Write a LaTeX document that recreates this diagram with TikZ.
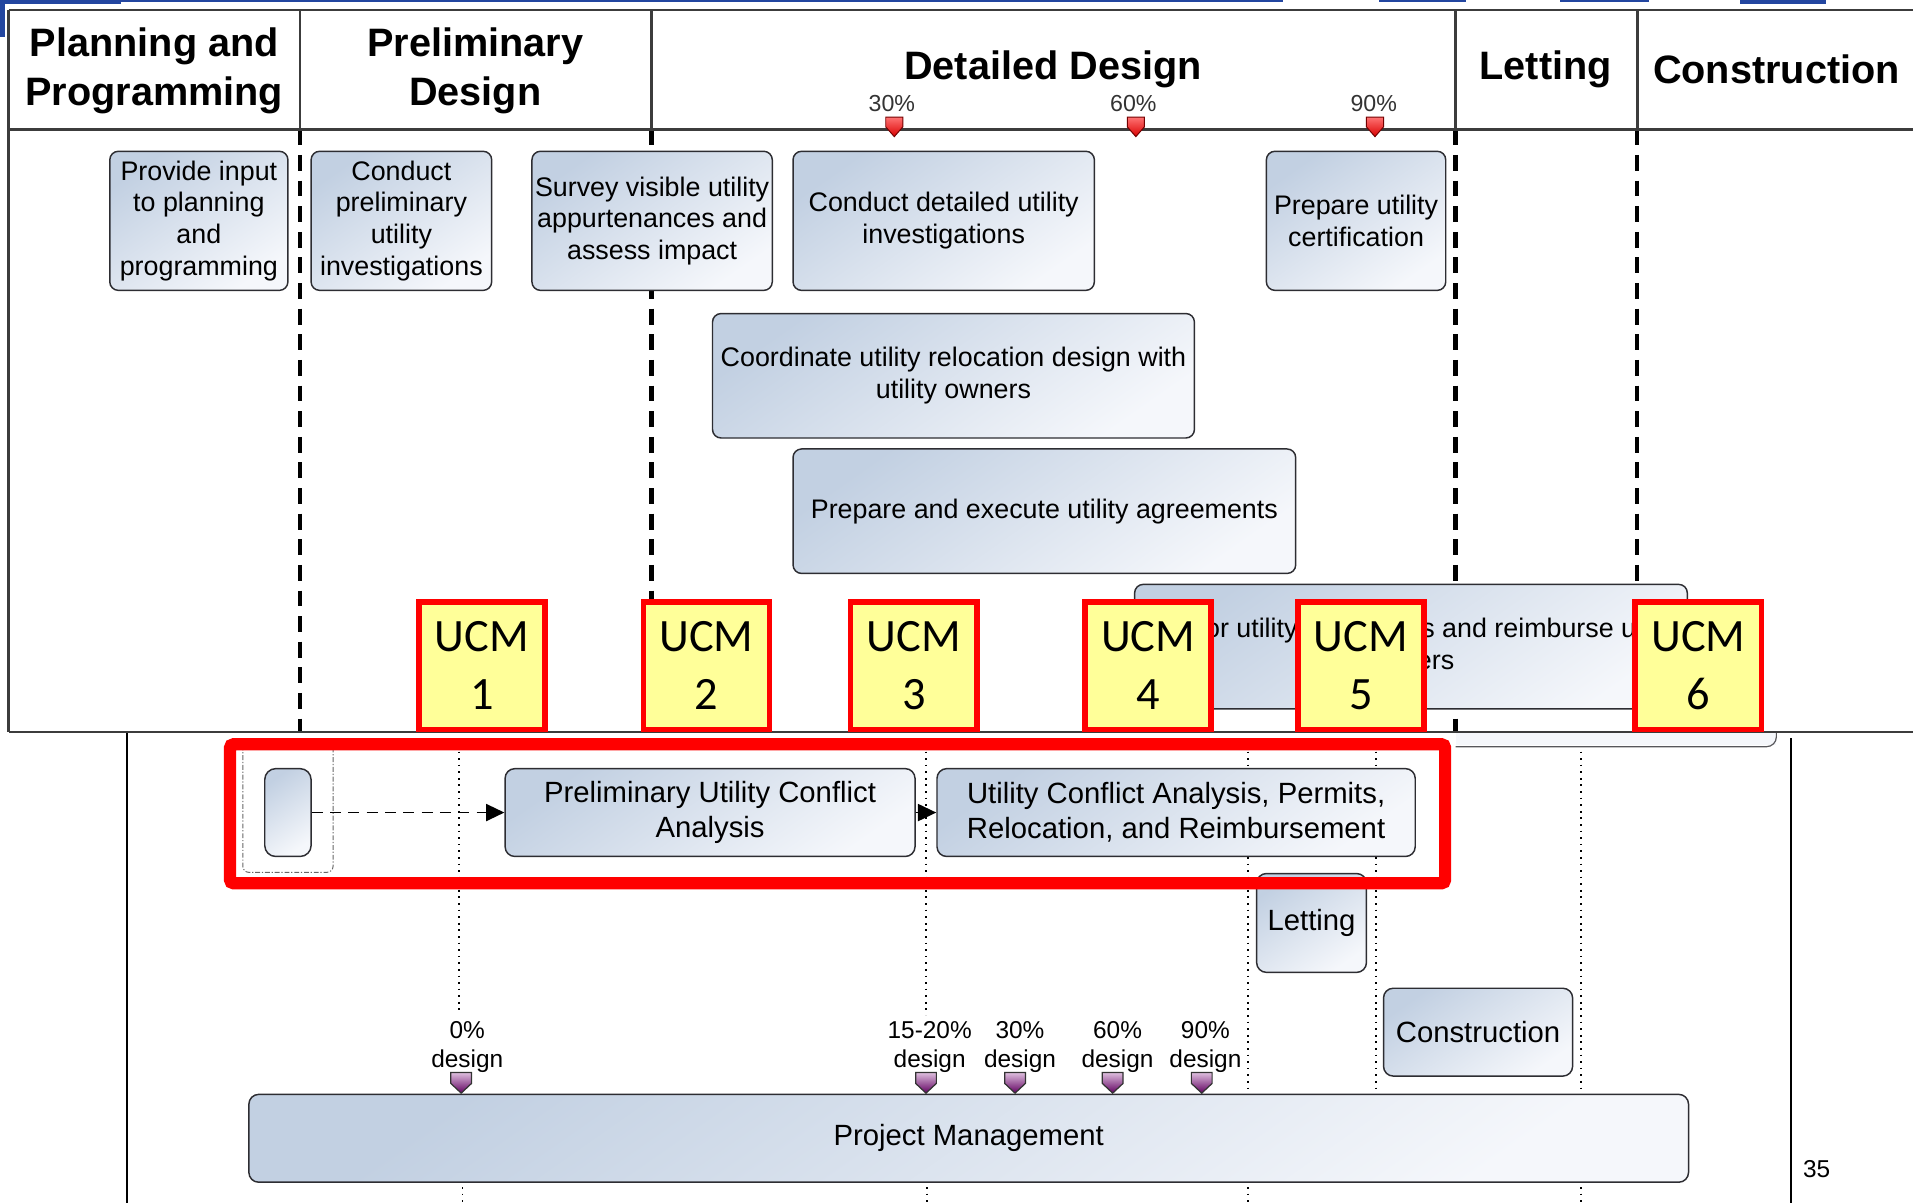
\documentclass[tikz,border=0pt]{standalone}
\usepackage{fontspec}
\setmainfont{Liberation Sans}
\newfontfamily\ucmfont{Carlito}
\usetikzlibrary{arrows.meta}
\definecolor{bdark}{RGB}{194,208,226}
\definecolor{blight}{RGB}{245,247,251}
\definecolor{bline}{RGB}{45,45,50}
\definecolor{ucmfill}{RGB}{255,255,153}
\definecolor{ucmred}{RGB}{255,0,0}
\definecolor{slideblue}{RGB}{35,70,160}
\definecolor{framegray}{RGB}{60,60,60}
\tikzset{
  gbox/.style={draw=bline, line width=1.2pt, rounded corners=7pt,
    top color=bdark, bottom color=blight, shading angle=35,
    inner sep=2pt, align=center, font=\fontsize{22}{26}\selectfont},
  lbox/.style={gbox, rounded corners=8pt, font=\fontsize{24}{29}\selectfont},
  ucm/.style={draw=ucmred, fill=ucmfill, line width=4.5pt, minimum width=103.5,
    minimum height=104.5, inner sep=0pt, align=center,
    font=\ucmfont\fontsize{38}{48}\selectfont},
  hdr/.style={font=\bfseries\fontsize{32.5}{39.5}\selectfont, align=center, inner sep=0pt},
  mlab/.style={font=\fontsize{19}{22}\selectfont, text=black!80, inner sep=0pt},
  dlab/.style={font=\fontsize{20}{24}\selectfont, align=center, inner sep=0pt},
  frameline/.style={draw=framegray, line width=2pt},
  phase/.style={line width=3.5pt, dash pattern=on 13pt off 8pt},
  dotv/.style={line width=1.4pt, dash pattern=on 1.4pt off 4pt},
  arr/.style={line width=1.5pt, -{Triangle[length=15pt,width=14pt]}},
  redmk/.pic={\path[draw=red!45!black, line width=0.8pt, top color=red!55!white, bottom color=red!85!black]
     (-7,-16) -- (7,-16) -- (7,-8) -- (0,0) -- (-7,-8) -- cycle;},
  purmk/.pic={\path[draw=black!80, line width=1pt, top color=violet!25!white, bottom color=violet!75!black]
     (-8.5,-17) -- (8.5,-17) -- (8.5,-8) -- (0,0) -- (-8.5,-8) -- cycle;}
}
\begin{document}
\begin{tikzpicture}[x=1pt,y=-1pt]
\useasboundingbox (0,0) rectangle (1568,986);
% slide decoration at top
\fill[slideblue] (0,0) rectangle (99,3);
\fill[slideblue] (0,0) rectangle (4,30);
\fill[slideblue] (99,0) rectangle (1052,2);
\fill[slideblue] (1130,0) rectangle (1202,2);
\fill[slideblue] (1279,0) rectangle (1352,2);
\fill[slideblue] (1426,0) rectangle (1497,3);

% ---------- lower diagram ----------
\path[fill=blight] (1193,600) rectangle (1456,611);
\draw[bline!80, line width=1pt, rounded corners=8pt] (1193,612) -- (1456,612) -- (1456,600);
\draw[line width=1.6pt] (104,600) -- (104,986);
\draw[line width=1.6pt] (1468,605) -- (1468,986);
\draw[dotv] (376,616) -- (376,830);
\draw[dotv] (379,973) -- (379,986);
\draw[dotv] (759,616) -- (759,832);
\draw[dotv] (760,973) -- (760,986);
\draw[dotv] (1023,616) -- (1023,895);
\draw[dotv] (1023,973) -- (1023,986);
\draw[dotv] (1128,616) -- (1128,893);
\draw[dotv] (1296,616) -- (1296,895);
\draw[dotv] (1296,973) -- (1296,986);

\draw[black!60, line width=0.8pt, dash pattern=on 4pt off 1.5pt on 1pt off 1.5pt, rounded corners=5pt] (199,606) rectangle (273,715);
\node[lbox, minimum width=38, minimum height=72, rounded corners=9pt] (sm) at (236,666) {};
\node[lbox, minimum width=336, minimum height=72] (pre) at (582,666) {Preliminary Utility Conflict\\Analysis};
\node[lbox, minimum width=392, minimum height=72] (uca) at (964,666) {Utility Conflict Analysis, Permits,\\Relocation, and Reimbursement};
\node[lbox, minimum width=90, minimum height=81] (let) at (1075,756.5) {Letting};
\node[lbox, minimum width=155, minimum height=72] (con) at (1211.5,846) {Construction};
\node[lbox, minimum width=1180, minimum height=72] (pm) at (794,933) {Project Management};

\draw[arr, dash pattern=on 9pt off 6pt] (sm.east) -- (pre.west);
\draw[arr] (pre.east) -- (uca.west);

\node[dlab] (d0) at (383,858) {0\%\\design};
\node[dlab] (d15) at (762,858) {15-20\%\\design};
\node[dlab] (d30) at (836,858) {30\%\\design};
\node[dlab] (d60) at (916,858) {60\%\\design};
\node[dlab] (d90) at (988,858) {90\%\\design};
\pic at (378,896) {purmk};
\pic at (759,896) {purmk};
\pic at (832,896) {purmk};
\pic at (912,896) {purmk};
\pic at (985,896) {purmk};

\draw[ucmred, line width=10pt, rounded corners=3pt] (188.5,610) rectangle (1184.5,724);

\node[font=\fontsize{20}{24}\selectfont, inner sep=0pt] (pg) at (1489,958) {35};

% ---------- upper table ----------
\draw[phase] (246,106) -- (246,600);
\draw[phase] (534,106) -- (534,600);
\draw[phase] (1193,106) -- (1193,600);
\draw[phase] (1342,106) -- (1342,600);
\draw[frameline] (7,8) -- (1568,8);
\draw[frameline] (7,8) -- (7,600);
\draw[frameline] (7,106) -- (1568,106);
\draw[frameline] (7,600) -- (1568,600);
\draw[frameline] (246,8) -- (246,106);
\draw[frameline] (534,8) -- (534,106);
\draw[frameline] (1193,8) -- (1193,106);
\draw[frameline] (1342,8) -- (1342,106);

\node[hdr] (hplan) at (126.5,58) {Planning and\\Programming};
\node[hdr] (hprel) at (389.5,58) {Preliminary\\Design};
\node[hdr] (hdet) at (863,57) {Detailed Design};
\node[hdr] (hlet) at (1267,57) {Letting};
\node[hdr] (hcon) at (1456,57) {Construction};

\node[mlab] (m30) at (731,85) {30\%};
\node[mlab] (m60) at (929,85) {60\%};
\node[mlab] (m90) at (1126,85) {90\%};
\pic at (733,112) {redmk};
\pic at (931,112) {redmk};
\pic at (1127,112) {redmk};

\node[gbox, minimum width=146, minimum height=114] (b1) at (163,181) {Provide input\\to planning\\and\\programming};
\node[gbox, minimum width=148, minimum height=114] (b2) at (329,181) {Conduct\\preliminary\\utility\\investigations};
\node[gbox, minimum width=197, minimum height=114] (b3) at (534.5,181) {Survey visible utility\\appurtenances and\\assess impact};
\node[gbox, minimum width=247, minimum height=114] (b4) at (773.5,181) {Conduct detailed utility\\investigations};
\node[gbox, minimum width=147, minimum height=114] (b5) at (1111.5,181) {Prepare utility\\certification};
\node[gbox, minimum width=395, minimum height=102] (b6) at (781.5,308) {Coordinate utility relocation design with\\utility owners};
\node[gbox, minimum width=412, minimum height=102] (b7) at (856,419) {Prepare and execute utility agreements};
\node[gbox, minimum width=453, minimum height=102] (b8) at (1156.5,530) {};
\node[align=center, inner sep=0pt, font=\fontsize{22}{26}\selectfont] (b8t) at (1156.5,528) {Monitor utility relocations and reimburse utility\\owners};

\node[ucm] (u1) at (395,545.5) {UCM\\1};
\node[ucm] (u2) at (579,545.5) {UCM\\2};
\node[ucm] (u3) at (749,545.5) {UCM\\3};
\node[ucm] (u4) at (941,545.5) {UCM\\4};
\node[ucm] (u5) at (1115.5,545.5) {UCM\\5};
\node[ucm] (u6) at (1392,545.5) {UCM\\6};
\end{tikzpicture}
\end{document}
